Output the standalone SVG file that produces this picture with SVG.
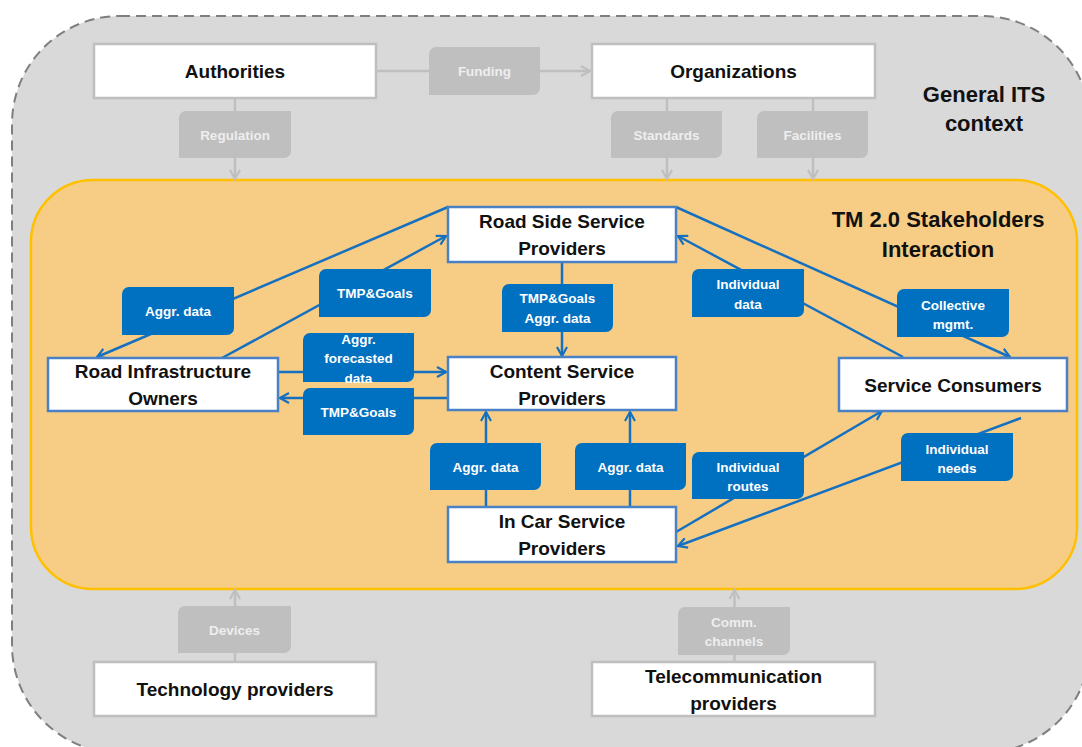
<svg xmlns="http://www.w3.org/2000/svg" width="1082" height="747" viewBox="0 0 1082 747">
<defs>
<style>
.gnode{fill:#ffffff;stroke:#bfbfbf;stroke-width:2.5}
.bnode{fill:#ffffff;stroke:#4a80c4;stroke-width:2.5}
.ntext{font-family:"Liberation Sans",Arial,sans-serif;font-weight:bold;font-size:19px;fill:#111;text-anchor:middle}
.gtext{font-family:"Liberation Sans",Arial,sans-serif;font-weight:bold;font-size:22px;fill:#111;text-anchor:middle}
.glab{fill:#bfbfbf}
.blab{fill:#0070c0}
.ltext{font-family:"Liberation Sans",Arial,sans-serif;font-weight:bold;font-size:13.5px;text-anchor:middle}
.gl{fill:#eeeeee}
.bl{fill:#ffffff}
.gline{fill:none;stroke:#bfbfbf;stroke-width:2.5;marker-end:url(#ag)}
.bline{fill:none;stroke:#1570c0;stroke-width:2.5;marker-end:url(#ab)}
</style>
<marker id="ag" viewBox="0 0 12 12" refX="10" refY="6" markerWidth="12" markerHeight="12" markerUnits="userSpaceOnUse" orient="auto">
<path d="M1,1 L10,6 L1,11" fill="none" stroke="#bfbfbf" stroke-width="2.2"/>
</marker>
<marker id="ab" viewBox="0 0 12 12" refX="10" refY="6" markerWidth="12" markerHeight="12" markerUnits="userSpaceOnUse" orient="auto">
<path d="M1,1 L10,6 L1,11" fill="none" stroke="#1570c0" stroke-width="2.2"/>
</marker>
</defs>

<g id="general-context">
<rect x="12" y="16" width="1078" height="737" rx="108" ry="108" fill="#d9d9d9" stroke="#7f7f7f" stroke-width="2" stroke-dasharray="10,6"/>
<text class="gtext" x="984" y="102">General ITS</text>
<text class="gtext" x="984" y="131">context</text>
</g>

<g id="tm-interaction">
<rect x="31" y="180" width="1046" height="409" rx="62" ry="62" fill="#f7cd86" stroke="#ffc000" stroke-width="2.5"/>
<text class="gtext" x="938" y="227">TM 2.0 Stakeholders</text>
<text class="gtext" x="938" y="257">Interaction</text>
</g>

<g id="connectors">
<path class="gline" d="M376,71 H590"/>
<path class="gline" d="M235,98 V179"/>
<path class="gline" d="M667,98 V179"/>
<path class="gline" d="M813,98 V179"/>
<path class="gline" d="M235,662 V590"/>
<path class="gline" d="M734.5,662 V590"/>
<path class="bline" d="M448,207 L97,357"/>
<path class="bline" d="M222,358 L446,236"/>
<path class="bline" d="M278,372 H446"/>
<path class="bline" d="M448,398 H280"/>
<path class="bline" d="M562,262 V356"/>
<path class="bline" d="M486,507 V412"/>
<path class="bline" d="M630,507 V412"/>
<path class="bline" d="M676,532 L882,411"/>
<path class="bline" d="M1021,418 L678,546"/>
<path class="bline" d="M903,357 L678,236"/>
<path class="bline" d="M676,207 L1010,357"/>
</g>

<g id="labels">
<g id="lbl-funding"><path class="glab" d="M436,47 H540 V88 A7,7 0 0 1 533,95 H429 V54 A7,7 0 0 1 436,47 Z"/><text class="ltext gl" x="484.5" y="75.5">Funding</text></g>
<g id="lbl-regulation"><path class="glab" d="M186,111 H291 V151 A7,7 0 0 1 284,158 H179 V118 A7,7 0 0 1 186,111 Z"/><text class="ltext gl" x="235" y="139.5">Regulation</text></g>
<g id="lbl-standards"><path class="glab" d="M618,111 H722 V151 A7,7 0 0 1 715,158 H611 V118 A7,7 0 0 1 618,111 Z"/><text class="ltext gl" x="666.5" y="139.5">Standards</text></g>
<g id="lbl-facilities"><path class="glab" d="M764,111 H868 V151 A7,7 0 0 1 861,158 H757 V118 A7,7 0 0 1 764,111 Z"/><text class="ltext gl" x="812.5" y="139.5">Facilities</text></g>
<g id="lbl-devices"><path class="glab" d="M185,606 H291 V646 A7,7 0 0 1 284,653 H178 V613 A7,7 0 0 1 185,606 Z"/><text class="ltext gl" x="234.5" y="634.5">Devices</text></g>
<g id="lbl-comm"><path class="glab" d="M685,607 H790 V648 A7,7 0 0 1 783,655 H678 V614 A7,7 0 0 1 685,607 Z"/><text class="ltext gl" x="734" y="626.5">Comm.</text><text class="ltext gl" x="734" y="645.5">channels</text></g>

<g id="lbl-aggr1"><path class="blab" d="M129,287 H234 V328 A7,7 0 0 1 227,335 H122 V294 A7,7 0 0 1 129,287 Z"/><text class="ltext bl" x="178" y="315.5">Aggr. data</text></g>
<g id="lbl-tmp1"><path class="blab" d="M326,269 H431 V310 A7,7 0 0 1 424,317 H319 V276 A7,7 0 0 1 326,269 Z"/><text class="ltext bl" x="375" y="297.5">TMP&amp;Goals</text></g>
<g id="lbl-forecast"><path class="blab" d="M310,333 H414 V375 A7,7 0 0 1 407,382 H303 V340 A7,7 0 0 1 310,333 Z"/><text class="ltext bl" x="358.5" y="343.5">Aggr.</text><text class="ltext bl" x="358.5" y="362.5">forecasted</text><text class="ltext bl" x="358.5" y="382.5">data</text></g>
<g id="lbl-tmp2"><path class="blab" d="M310,388 H414 V428 A7,7 0 0 1 407,435 H303 V395 A7,7 0 0 1 310,388 Z"/><text class="ltext bl" x="358.5" y="416.5">TMP&amp;Goals</text></g>
<g id="lbl-tmpaggr"><path class="blab" d="M509,284 H613 V325 A7,7 0 0 1 606,332 H502 V291 A7,7 0 0 1 509,284 Z"/><text class="ltext bl" x="557.5" y="302.5">TMP&amp;Goals</text><text class="ltext bl" x="557.5" y="322.5">Aggr. data</text></g>
<g id="lbl-inddata"><path class="blab" d="M699,269 H804 V310 A7,7 0 0 1 797,317 H692 V276 A7,7 0 0 1 699,269 Z"/><text class="ltext bl" x="748" y="288.5">Individual</text><text class="ltext bl" x="748" y="308.5">data</text></g>
<g id="lbl-collective"><path class="blab" d="M904,289 H1009 V330 A7,7 0 0 1 1002,337 H897 V296 A7,7 0 0 1 904,289 Z"/><text class="ltext bl" x="953" y="309.5">Collective</text><text class="ltext bl" x="953" y="328.5">mgmt.</text></g>
<g id="lbl-aggr2"><path class="blab" d="M437,443 H541 V483 A7,7 0 0 1 534,490 H430 V450 A7,7 0 0 1 437,443 Z"/><text class="ltext bl" x="485.5" y="471.5">Aggr. data</text></g>
<g id="lbl-aggr3"><path class="blab" d="M582,443 H686 V483 A7,7 0 0 1 679,490 H575 V450 A7,7 0 0 1 582,443 Z"/><text class="ltext bl" x="630.5" y="471.5">Aggr. data</text></g>
<g id="lbl-routes"><path class="blab" d="M699,452 H804 V492 A7,7 0 0 1 797,499 H692 V459 A7,7 0 0 1 699,452 Z"/><text class="ltext bl" x="748" y="471.5">Individual</text><text class="ltext bl" x="748" y="490.5">routes</text></g>
<g id="lbl-needs"><path class="blab" d="M908,433 H1013 V474 A7,7 0 0 1 1006,481 H901 V440 A7,7 0 0 1 908,433 Z"/><text class="ltext bl" x="957" y="453.5">Individual</text><text class="ltext bl" x="957" y="472.5">needs</text></g>
</g>

<g id="authorities"><rect class="gnode" x="94" y="44" width="282" height="54"/><text class="ntext" x="235" y="77.5">Authorities</text></g>
<g id="organizations"><rect class="gnode" x="592" y="44" width="283" height="54"/><text class="ntext" x="733.5" y="77.5">Organizations</text></g>
<g id="technology-providers"><rect class="gnode" x="94" y="662" width="282" height="54"/><text class="ntext" x="235" y="695.5">Technology providers</text></g>
<g id="telecom-providers"><rect class="gnode" x="592" y="662" width="283" height="54"/><text class="ntext" x="733.5" y="682.5">Telecommunication</text><text class="ntext" x="733.5" y="709.5">providers</text></g>

<g id="road-side"><rect class="bnode" x="448" y="207" width="228" height="55"/><text class="ntext" x="562" y="227.5">Road Side Service</text><text class="ntext" x="562" y="254.5">Providers</text></g>
<g id="content"><rect class="bnode" x="448" y="357" width="228" height="53"/><text class="ntext" x="562" y="377.5">Content Service</text><text class="ntext" x="562" y="404.5">Providers</text></g>
<g id="road-infra"><rect class="bnode" x="48" y="358" width="230" height="53"/><text class="ntext" x="163" y="377.5">Road Infrastructure</text><text class="ntext" x="163" y="404.5">Owners</text></g>
<g id="consumers"><rect class="bnode" x="839" y="358" width="228" height="53"/><text class="ntext" x="953" y="391.5">Service Consumers</text></g>
<g id="in-car"><rect class="bnode" x="448" y="507" width="228" height="55"/><text class="ntext" x="562" y="527.5">In Car Service</text><text class="ntext" x="562" y="554.5">Providers</text></g>
</svg>
